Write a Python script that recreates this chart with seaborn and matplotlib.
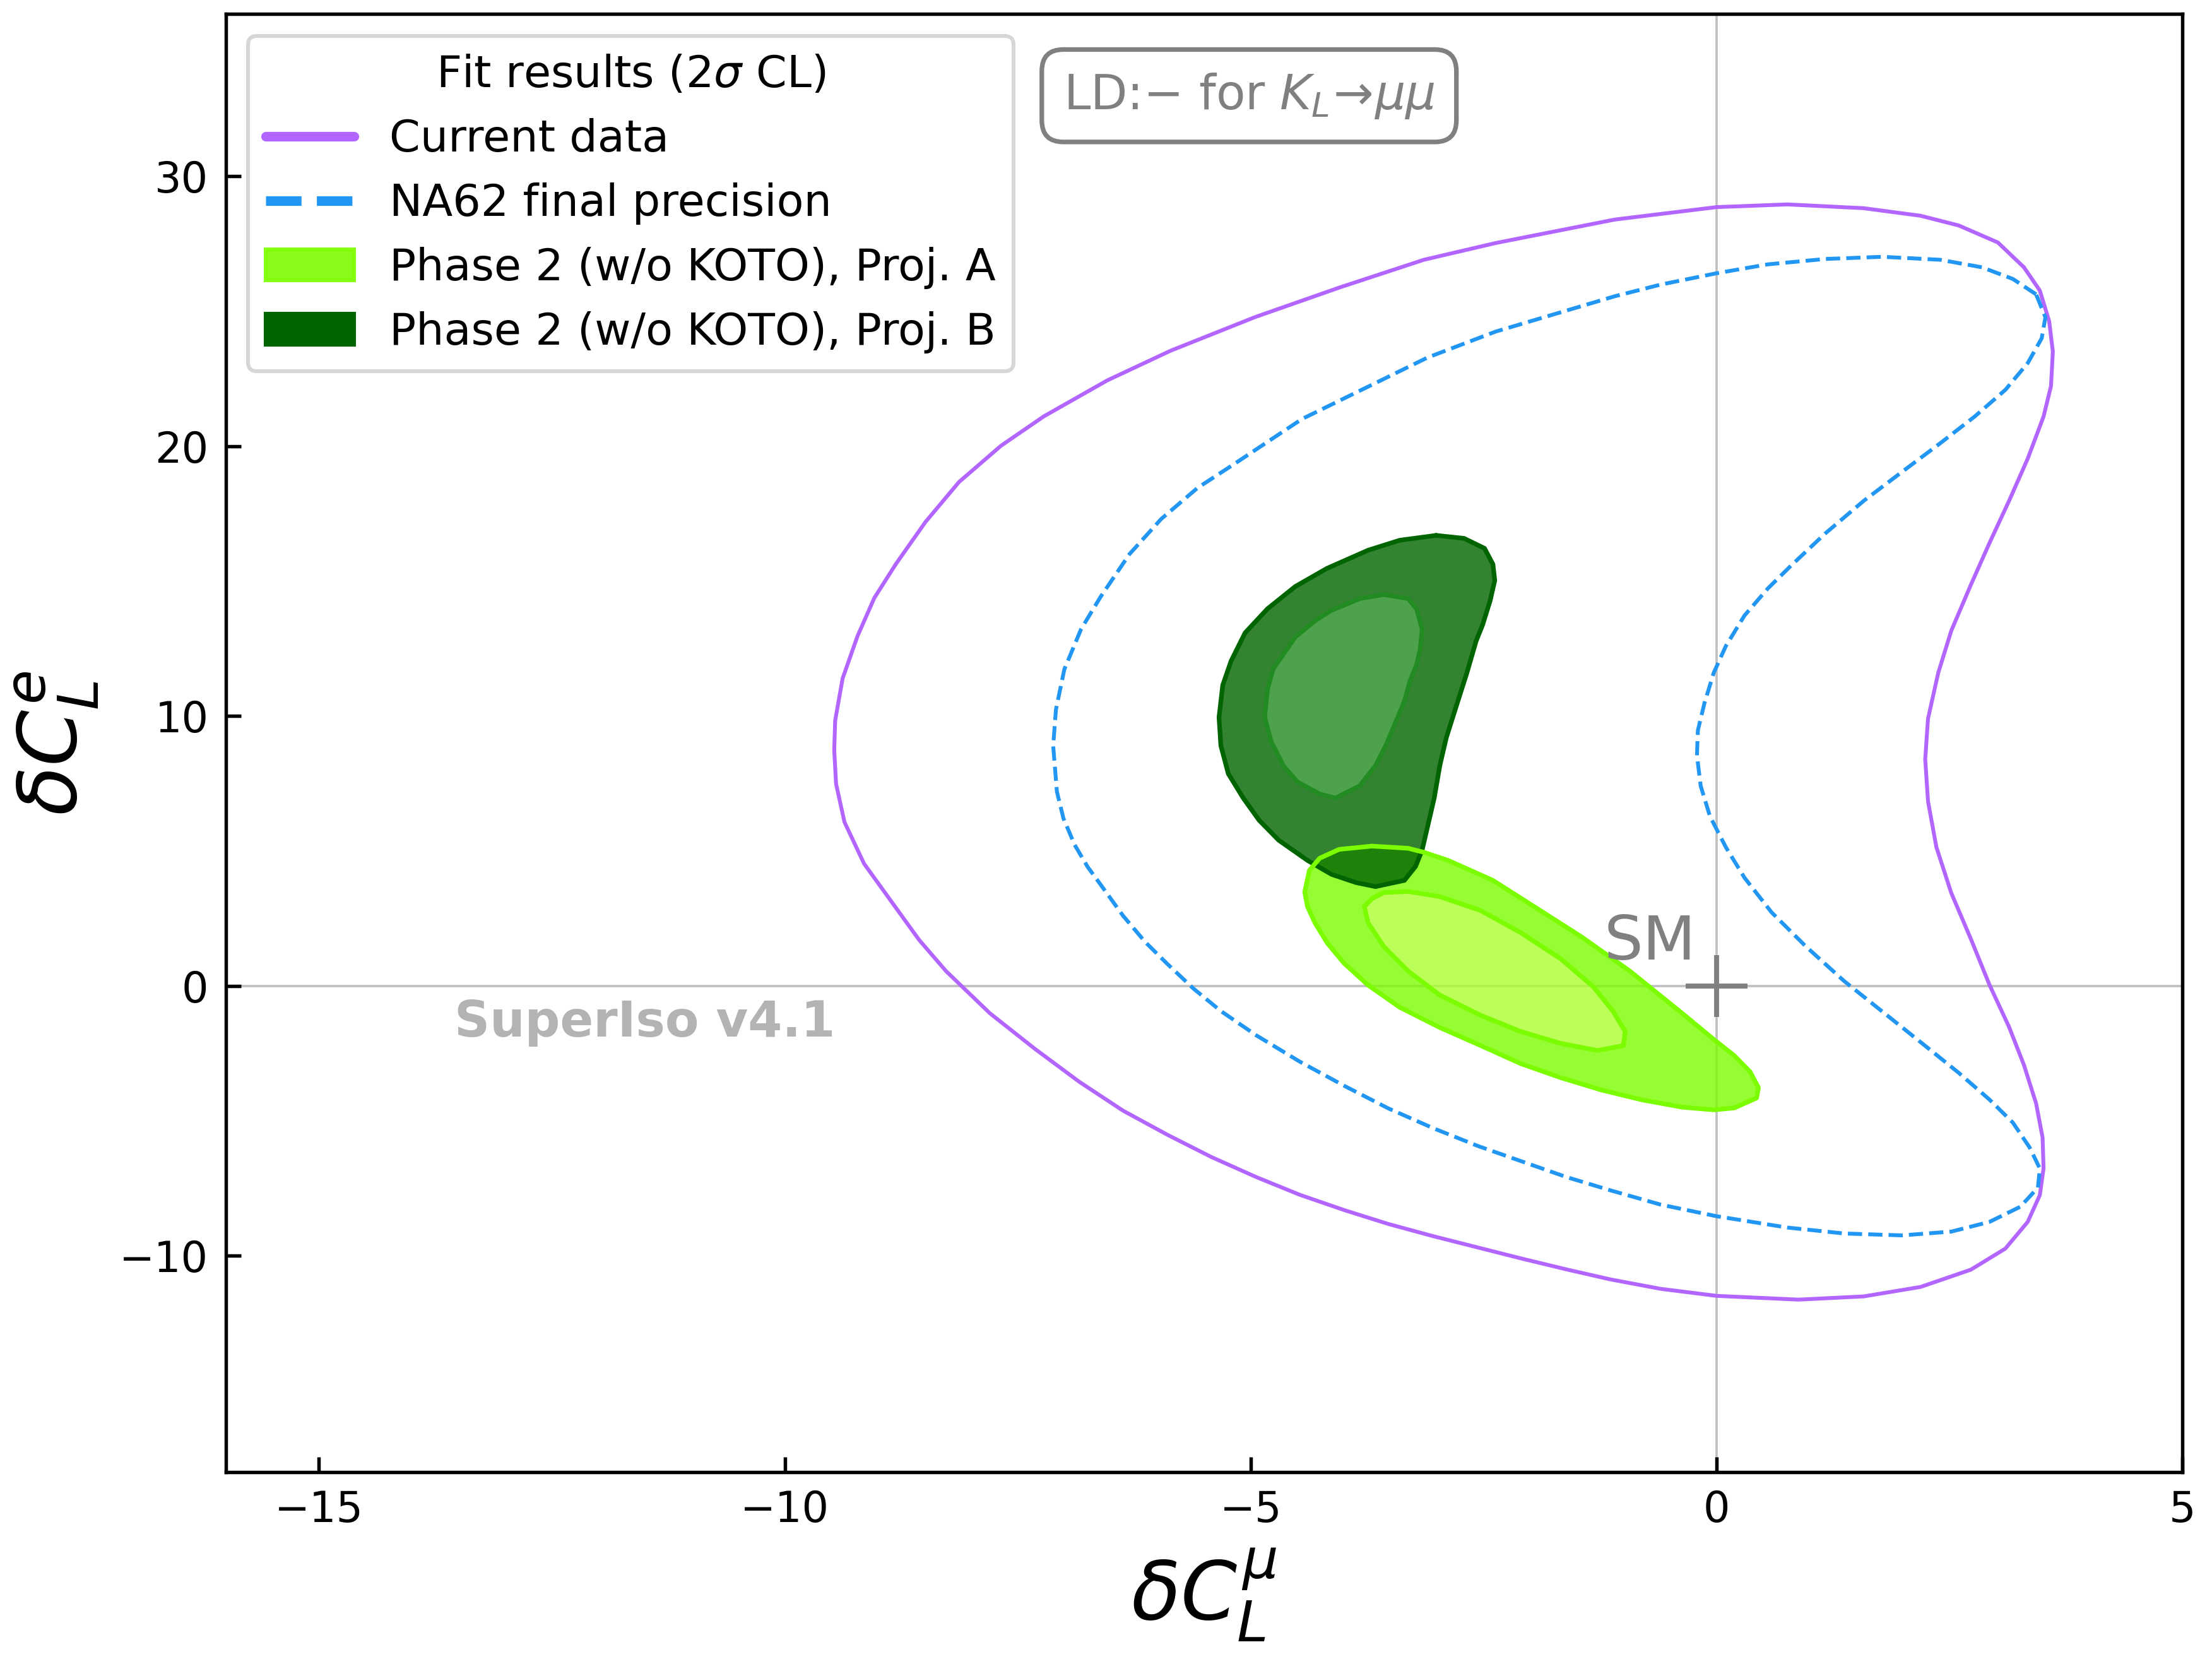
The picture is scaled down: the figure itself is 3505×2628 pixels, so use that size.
import numpy as np
import matplotlib
matplotlib.use("Agg")
import matplotlib.pyplot as plt
import seaborn as sns
from matplotlib.path import Path
from matplotlib.patches import PathPatch, Patch
from matplotlib.lines import Line2D

# ---------------- data ----------------
# Current data, 2 sigma contour
purple_x = [3.30, 3.02, 2.60, 2.19, 1.58, 0.76, 0.00, -1.09, -2.37, -3.14, -4.04, -4.95,
            -5.86, -6.54, -7.22, -7.68, -8.13, -8.49, -8.81, -9.04, -9.22, -9.38, -9.46,
            -9.47, -9.45, -9.36, -9.15, -8.56, -8.27, -7.80, -7.32, -6.84, -6.37, -5.89,
            -5.42, -4.94, -4.47, -3.99, -3.52, -3.04, -2.56, -2.09, -1.61, -1.14, -0.60,
            0.00, 0.88, 1.58, 2.19, 2.73, 3.10, 3.34, 3.47, 3.51, 3.50, 3.43, 3.30, 3.14,
            2.93, 2.73, 2.52, 2.36, 2.27, 2.24, 2.27, 2.38, 2.52, 2.73, 2.93, 3.14, 3.34,
            3.51, 3.59, 3.61, 3.57, 3.47]
purple_y = [26.62, 27.54, 28.17, 28.53, 28.81, 28.95, 28.85, 28.39, 27.52, 26.90, 25.88, 24.78,
            23.53, 22.43, 21.10, 20.01, 18.67, 17.19, 15.62, 14.37, 12.96, 11.39, 9.83,
            8.73, 7.48, 6.07, 4.53, 1.71, 0.55, -1.01, -2.32, -3.55, -4.62, -5.52,
            -6.34, -7.08, -7.74, -8.31, -8.82, -9.27, -9.69, -10.10, -10.50, -10.87, -11.22,
            -11.48, -11.62, -11.50, -11.15, -10.51, -9.73, -8.74, -7.75, -6.76, -5.62, -4.35, -2.93, -1.52,
            0.04, 1.74, 3.44, 5.14, 6.84, 8.40, 9.90, 11.60, 13.16, 14.86, 16.41, 17.97, 19.53,
            21.09, 22.22, 23.50, 24.63, 25.76]

# NA62 final precision, 2 sigma contour
blue_x = [3.43, 3.18, 2.85, 2.40, 1.78, 1.17, 0.55, 0.00, -0.60, -1.09, -2.37, -3.10, -4.45,
          -5.17, -5.57, -5.96, -6.30, -6.61, -6.82, -7.00, -7.09, -7.12, -7.08, -7.01, -6.89, -6.75,
          -6.61, -6.37, -6.13, -5.89, -5.61, -5.32, -4.94, -4.47, -3.99, -3.52, -3.04, -2.56,
          -2.09, -1.61, -1.14, -0.60, 0.00, 0.76, 1.37, 1.99, 2.52, 2.93, 3.26, 3.45, 3.47,
          3.36, 3.18, 2.93, 2.60, 2.19, 1.78, 1.37, 0.96, 0.59, 0.30, 0.10, -0.07, -0.17,
          -0.21, -0.20, -0.13, -0.03, 0.10, 0.30, 0.55, 0.80, 1.17, 1.58, 1.99, 2.40, 2.77,
          3.10, 3.34, 3.49, 3.53]
blue_y = [25.62, 26.19, 26.62, 26.90, 27.01, 26.93, 26.73, 26.40, 25.98, 25.55, 24.24, 23.28, 21.00,
          19.35, 18.45, 17.30, 16.00, 14.42, 13.22, 11.73, 10.24, 8.90, 7.20, 6.21, 5.23, 4.41,
          3.75, 2.60, 1.62, 0.80, -0.11, -0.93, -1.83, -2.81, -3.71, -4.54, -5.27, -5.93,
          -6.50, -7.08, -7.57, -8.10, -8.53, -8.95, -9.17, -9.24, -9.10, -8.74, -8.18, -7.47, -6.76,
          -5.98, -5.06, -4.21, -3.22, -2.08, -0.95, 0.18, 1.46, 2.73, 4.01, 5.14, 6.28, 7.41,
          8.54, 9.47, 10.47, 11.60, 12.59, 13.72, 14.72, 15.57, 16.77, 17.97, 19.04, 20.10, 21.09,
          22.08, 23.07, 23.99, 24.77]

# Phase 2 (w/o KOTO), Proj. A : outer (2 sigma) and inner (1 sigma)
a_out_x = [-3.70, -3.31, -3.14, -2.88, -2.40, -1.89, -1.45, -0.93, -0.37, -0.03, 0.19, 0.36, 0.45,
           0.43, 0.19, -0.03, -0.37, -0.80, -1.24, -1.67, -2.10, -2.53, -2.97, -3.40, -3.74,
           -4.00, -4.18, -4.31, -4.39, -4.42, -4.37, -4.26, -4.05]
a_out_y = [5.18, 5.10, 4.95, 4.65, 3.91, 2.79, 1.82, 0.55, -1.01, -1.98, -2.58, -3.18, -3.77,
           -4.15, -4.52, -4.59, -4.49, -4.22, -3.85, -3.40, -2.88, -2.21, -1.54, -0.79, 0.03,
           0.85, 1.60, 2.34, 2.94, 3.48, 4.28, 4.73, 5.06]
a_in_x = [-3.31, -2.97, -2.53, -2.10, -1.67, -1.32, -1.11, -0.98, -1.00, -1.28, -1.67, -2.10,
          -2.53, -2.97, -3.31, -3.57, -3.74, -3.78, -3.70, -3.57]
a_in_y = [3.50, 3.31, 2.79, 1.97, 1.00, -0.04, -0.94, -1.69, -2.21, -2.39, -2.13, -1.69,
          -1.09, -0.34, 0.55, 1.45, 2.34, 2.94, 3.23, 3.46]

# Phase 2 (w/o KOTO), Proj. B : outer and inner
b_out_x = [-3.01, -2.71, -2.49, -2.40, -2.38, -2.43, -2.51, -2.58, -2.68, -2.79, -2.90, -2.97,
           -3.03, -3.10, -3.16, -3.23, -3.35, -3.66, -3.87, -4.13, -4.39, -4.70, -4.91, -5.08,
           -5.24, -5.32, -5.34, -5.30, -5.21, -5.06, -4.82, -4.52, -4.18, -3.74, -3.40]
b_out_y = [16.69, 16.58, 16.21, 15.62, 15.02, 14.27, 13.38, 12.78, 11.59, 10.40, 9.20, 8.16,
           6.96, 5.92, 5.03, 4.43, 3.91, 3.68, 3.83, 4.13, 4.65, 5.40, 6.14, 6.96,
           7.86, 8.90, 9.95, 11.14, 12.04, 13.08, 13.97, 14.80, 15.47, 16.14, 16.51]
b_in_x = [-3.57, -3.31, -3.22, -3.16, -3.18, -3.22, -3.29, -3.35, -3.44, -3.55, -3.66, -3.83,
          -4.09, -4.26, -4.50, -4.65, -4.78, -4.85, -4.82, -4.76, -4.52, -4.31, -4.14, -3.83]
b_in_y = [14.50, 14.35, 13.97, 13.23, 12.48, 11.89, 11.29, 10.54, 9.80, 8.90, 8.16, 7.41,
          6.96, 7.11, 7.56, 8.16, 9.05, 9.95, 10.99, 11.74, 12.93, 13.53, 13.90, 14.35]

legend_labels = ["Current data", "NA62 final precision",
                 "Phase 2 (w/o KOTO), Proj. A", "Phase 2 (w/o KOTO), Proj. B"]
x_ticks = [-15, -10, -5, 0, 5]
y_ticks = [-10, 0, 10, 20, 30]
sm_point = (0.0, 0.0)

# ---------------- style ----------------
sns.set_style("ticks")
plt.rcParams["font.family"] = ["DejaVu Sans"]
plt.rcParams["mathtext.fontset"] = "dejavusans"
plt.rcParams["axes.linewidth"] = 0.9
for k in ["text.color", "axes.labelcolor", "xtick.color", "ytick.color", "axes.edgecolor"]:
    plt.rcParams[k] = "black"

C_PURPLE = "#b266ff"
C_BLUE = "#2196f3"

fig = plt.figure(figsize=(3505 / 438, 2628 / 438), dpi=438)
ax = fig.add_axes([0.1021, 0.1128, 0.8845, 0.8787])


def closed(xs, ys):
    return list(xs) + [xs[0]], list(ys) + [ys[0]]


def area(xs, ys):
    x = np.asarray(xs); y = np.asarray(ys)
    return 0.5 * np.sum(x * np.roll(y, -1) - np.roll(x, -1) * y)


def ring_patch(ox, oy, ix=None, iy=None, **kw):
    verts, codes = [], []
    ox, oy = list(ox), list(oy)
    if area(ox, oy) < 0:
        ox, oy = ox[::-1], oy[::-1]
    verts += list(zip(ox, oy)) + [(ox[0], oy[0])]
    codes += [Path.MOVETO] + [Path.LINETO] * (len(ox) - 1) + [Path.CLOSEPOLY]
    if ix is not None:
        ix, iy = list(ix), list(iy)
        if area(ix, iy) > 0:
            ix, iy = ix[::-1], iy[::-1]
        verts += list(zip(ix, iy)) + [(ix[0], iy[0])]
        codes += [Path.MOVETO] + [Path.LINETO] * (len(ix) - 1) + [Path.CLOSEPOLY]
    return PathPatch(Path(verts, codes), **kw)


# reference lines
ax.axhline(0, color="0.75", lw=0.6, zorder=0.5)
ax.axvline(0, color="0.75", lw=0.6, zorder=0.5)

# fills (bands, non overlapping within one projection)
ax.add_patch(ring_patch(a_out_x, a_out_y, a_in_x, a_in_y, facecolor="lawngreen", alpha=0.8,
                        edgecolor="none", zorder=2))
ax.add_patch(ring_patch(a_in_x, a_in_y, facecolor="greenyellow", alpha=0.8,
                        edgecolor="none", zorder=2))
ax.add_patch(ring_patch(b_out_x, b_out_y, b_in_x, b_in_y, facecolor="darkgreen", alpha=0.8,
                        edgecolor="none", zorder=2.1))
ax.add_patch(ring_patch(b_in_x, b_in_y, facecolor="forestgreen", alpha=0.8,
                        edgecolor="none", zorder=2.1))

# contour outlines
for xs, ys, col, z in [(b_out_x, b_out_y, "darkgreen", 3.0), (b_in_x, b_in_y, "forestgreen", 3.0),
                       (a_out_x, a_out_y, "lawngreen", 3.1), (a_in_x, a_in_y, "lawngreen", 3.1)]:
    cx, cy = closed(xs, ys)
    ax.plot(cx, cy, color=col, lw=1.2, zorder=z, solid_joinstyle="round")

px, py = closed(purple_x, purple_y)
sns.lineplot(x=px, y=py, sort=False, estimator=None, color=C_PURPLE, lw=1.0, ax=ax, zorder=4)
bx, by = closed(blue_x, blue_y)
sns.lineplot(x=bx, y=by, sort=False, estimator=None, color=C_BLUE, lw=1.0, ax=ax,
             linestyle="--", zorder=4)

# SM point
ax.plot([sm_point[0]], [sm_point[1]], marker="+", ms=16, mew=1.3, color="gray", zorder=5)
ax.text(-0.22, 0.97, "SM", color="gray", fontsize=16, ha="right", va="baseline", zorder=5)

# watermark
ax.text(-11.5, -1.36, "SuperIso v4.1", color="0.7", fontsize=12.8, fontweight="bold",
        ha="center", va="center", zorder=1)

# LD box
ax.text(0.523, 0.944, r"LD:$-$ for $K_L\!\to\!\mu\mu$", transform=ax.transAxes, fontsize=12.5,
        color="gray", ha="center", va="center", zorder=6,
        bbox=dict(boxstyle="round,pad=0.45", facecolor="white", edgecolor="gray", lw=1.2))

# axes
ax.set_xlim(-16, 5)
ax.set_ylim(-18, 36)
ax.set_xticks(x_ticks)
ax.set_yticks(y_ticks)
ax.tick_params(direction="in", length=4, width=0.9, labelsize=11, pad=4.5,
               top=False, right=False, colors="black")
ax.set_xlabel(r"$\delta C_L^{\mu}$", fontsize=21, labelpad=4)
ax.set_ylabel(r"$\delta C_L^{e}$", fontsize=21, labelpad=5)

handles = [Line2D([], [], color=C_PURPLE, lw=2.5),
           Line2D([], [], color=C_BLUE, lw=2.5, linestyle="--"),
           Patch(facecolor="lawngreen", edgecolor="lawngreen", alpha=0.9),
           Patch(facecolor="darkgreen", edgecolor="darkgreen")]
leg = ax.legend(handles, legend_labels, loc="upper left", fontsize=11.5,
                title=r"Fit results (2$\sigma$ CL)", title_fontsize=11.5,
                labelspacing=0.5, frameon=True, fancybox=True, edgecolor="0.8")
leg.set_zorder(7)

fig.savefig("out.png", dpi=438)
